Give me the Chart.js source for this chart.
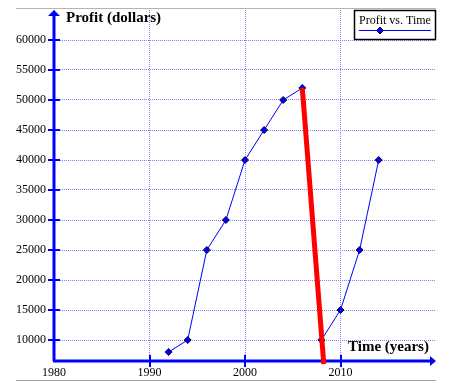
<!DOCTYPE html>
<html>
<head>
<meta charset="utf-8">
<script src="https://cdn.jsdelivr.net/npm/chart.js@4.4.0/dist/chart.umd.min.js"></script>
<style>
  body{margin:0;background:#fff;}
  #profitChart{display:block;}
</style>
</head>
<body>
<canvas id="profitChart" width="459" height="388"></canvas>
<script>
var years = [1992,1994,1996,1998,2000,2002,2004,2006,2008,2010,2012,2014];
var profit = [8000,10000,25000,30000,40000,45000,50000,52000,10000,15000,25000,40000];
// the thick red drop line
var dropYears = [2006,2008.25];
var dropProfit = [52000,6000];
var xTicks = [1980,1990,2000,2010];
var yTicks = [10000,15000,20000,25000,30000,35000,40000,45000,50000,55000,60000];

var serif = "'Liberation Serif','Times New Roman',serif";

function toPoints(xs,ys){
  var pts = [];
  for(var i=0;i<xs.length;i++){
    pts.push({x:xs[i],y:ys[i]});
  }
  return pts;
}

// axes with arrows, tick marks, frame lines
var axesPlugin = {
  id:'axesPlugin',
  beforeDatasetsDraw:function(chart){
    var ctx = chart.ctx;
    var a = chart.chartArea;
    var xs = chart.scales.x, ys = chart.scales.y;
    var x0 = Math.round(a.left), y0 = Math.round(a.bottom);
    ctx.save();
    // gray frame lines top and bottom
    ctx.strokeStyle = '#b4b4b4';
    ctx.lineWidth = 1;
    ctx.beginPath();
    ctx.moveTo(16,8.5); ctx.lineTo(436,8.5);
    ctx.stroke();
    ctx.strokeStyle = '#a0a0a0';
    ctx.beginPath();
    ctx.moveTo(16,380.5); ctx.lineTo(436,380.5);
    ctx.stroke();

    ctx.strokeStyle = '#0000ff';
    ctx.fillStyle = '#0000ff';
    ctx.lineWidth = 3;
    ctx.beginPath();
    ctx.moveTo(x0,y0); ctx.lineTo(x0,a.top+5);
    ctx.moveTo(x0-1,y0); ctx.lineTo(a.right-5,y0);
    ctx.stroke();
    // arrow heads
    ctx.beginPath();
    ctx.moveTo(x0,a.top); ctx.lineTo(x0-6,a.top+6); ctx.lineTo(x0+6,a.top+6);
    ctx.closePath(); ctx.fill();
    ctx.beginPath();
    ctx.moveTo(a.right,y0); ctx.lineTo(a.right-6,y0-5); ctx.lineTo(a.right-6,y0+5);
    ctx.closePath(); ctx.fill();
    // tick marks
    ctx.lineWidth = 2;
    ctx.beginPath();
    for(var i=0;i<yTicks.length;i++){
      var py = Math.round(ys.getPixelForValue(yTicks[i]));
      ctx.moveTo(x0-6,py); ctx.lineTo(x0+6,py);
    }
    for(var j=1;j<xTicks.length;j++){
      var px = Math.round(xs.getPixelForValue(xTicks[j]));
      ctx.moveTo(px,y0-6); ctx.lineTo(px,y0+6);
    }
    ctx.stroke();
    ctx.restore();
  },
  afterDraw:function(chart){
    var ctx = chart.ctx;
    ctx.save();
    // axis titles
    ctx.fillStyle = '#000';
    ctx.font = 'bold 15px ' + serif;
    ctx.textBaseline = 'middle';
    ctx.textAlign = 'left';
    ctx.fillText('Profit (dollars)',66,18);
    ctx.fillText('Time (years)',348,347);
    // legend box
    var ds = chart.data.datasets[1];
    ctx.strokeStyle = '#000';
    ctx.lineWidth = 1.5;
    ctx.strokeRect(354.5,10.5,81,29);
    ctx.font = '12px ' + serif;
    ctx.fillText(ds.label,359,21);
    ctx.strokeStyle = ds.borderColor;
    ctx.lineWidth = 1;
    ctx.beginPath();
    ctx.moveTo(359,30.5); ctx.lineTo(431,30.5);
    ctx.stroke();
    Chart.helpers.drawPoint(ctx,{pointStyle:'rectRot',radius:3.5,borderWidth:1},380,30.5);
    ctx.fillStyle = ds.pointBackgroundColor;
    ctx.strokeStyle = ds.pointBorderColor;
    ctx.fill(); ctx.stroke();
    ctx.restore();
  }
};

var ctx = document.getElementById('profitChart');
var chart = new Chart(ctx,{
  type:'line',
  data:{
    datasets:[{
      label:'drop',
      data:toPoints(dropYears,dropProfit),
      borderColor:'#ff0000',
      borderWidth:5,
      pointRadius:0,
      clip:false,
      order:0
    },{
      label:'Profit vs. Time',
      data:toPoints(years,profit),
      borderColor:'#0000ff',
      borderWidth:1,
      pointStyle:'rectRot',
      pointRadius:3.5,
      pointBackgroundColor:'#0000ff',
      pointBorderColor:'#000033',
      pointBorderWidth:1,
      tension:0,
      order:1
    }]
  },
  options:{
    responsive:false,
    animation:false,
    devicePixelRatio:1,
    layout:{padding:{left:0,top:10,right:23,bottom:0}},
    plugins:{legend:{display:false},tooltip:{enabled:false}},
    scales:{
      x:{
        type:'linear',
        min:1980,max:2020,
        afterBuildTicks:function(s){ s.ticks = xTicks.map(function(v){return {value:v};}); },
        afterFit:function(s){ s.height = 27; s.paddingLeft = 0; s.paddingRight = 0; },
        grid:{color:'#8080ff',lineWidth:1,drawTicks:false},
        border:{display:false,dash:[1,1]},
        ticks:{padding:5,color:'#000',font:{family:serif,size:12},
          callback:function(v){ return String(v); }}
      },
      y:{
        min:6500,max:65000,
        afterBuildTicks:function(s){ s.ticks = yTicks.map(function(v){return {value:v};}); },
        afterFit:function(s){ s.width = 54; s.paddingTop = 0; s.paddingBottom = 0; },
        grid:{color:'#8080ff',lineWidth:1,drawTicks:false},
        border:{display:false,dash:[1,1]},
        ticks:{padding:8,color:'#000',font:{family:serif,size:12},
          callback:function(v){ return String(v); }}
      }
    }
  },
  plugins:[axesPlugin]
});
</script>
</body>
</html>
